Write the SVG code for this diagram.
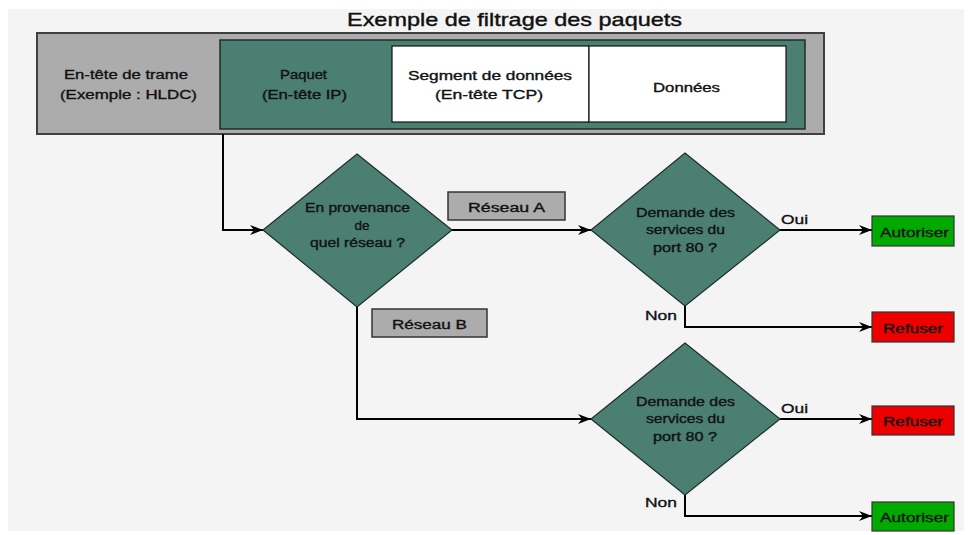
<svg xmlns="http://www.w3.org/2000/svg" width="972" height="535" viewBox="0 0 972 535">
<style>
text{font-family:"Liberation Sans",Arial,sans-serif;fill:#111;stroke:#111;stroke-width:0.35;font-size:12.5px;text-anchor:middle}
.title{font-size:19px;stroke-width:0.4}
.lbl{font-size:13px;text-anchor:start}
.conn{fill:none;stroke:#000;stroke-width:2}
.dia{fill:#4a7f72;stroke:#1e2e28;stroke-width:1.2}
.gray{fill:#acacac;stroke:#333;stroke-width:1.5}
.ok{fill:#00aa00;stroke:#333;stroke-width:1.2}
.no{fill:#ee0000;stroke:#333;stroke-width:1.2}
</style>
<defs>
<marker id="arr" markerUnits="userSpaceOnUse" markerWidth="14" markerHeight="12" refX="13" refY="6" orient="auto">
<path d="M0,1 L13,6 L0,11 L4,6 z" fill="#000"/>
</marker>
</defs>
<rect x="8" y="9" width="956" height="522" fill="#f4f4f4"/>
<text class="title" x="514.5" y="26" textLength="335" lengthAdjust="spacingAndGlyphs">Exemple de filtrage des paquets</text>

<g id="frame">
<rect x="37" y="33" width="787" height="101" fill="#acacac" stroke="#404040" stroke-width="2"/>
<text x="126" y="79" textLength="124" lengthAdjust="spacingAndGlyphs">En-tête de trame</text>
<text x="128.5" y="99" textLength="137" lengthAdjust="spacingAndGlyphs">(Exemple : HLDC)</text>
</g>
<g id="packet">
<rect x="220" y="40" width="585" height="89" fill="#4a7f72" stroke="#1e2e28" stroke-width="1.5"/>
<text x="303.5" y="79" textLength="47" lengthAdjust="spacingAndGlyphs">Paquet</text>
<text x="304.5" y="99" textLength="85" lengthAdjust="spacingAndGlyphs">(En-tête IP)</text>
</g>
<g id="segment">
<rect x="392" y="46" width="197" height="76" fill="#fff" stroke="#111" stroke-width="1.2"/>
<text x="490" y="80" textLength="164" lengthAdjust="spacingAndGlyphs">Segment de données</text>
<text x="489" y="99" textLength="108" lengthAdjust="spacingAndGlyphs">(En-tête TCP)</text>
</g>
<g id="data">
<rect x="589" y="46" width="197" height="76" fill="#fff" stroke="#111" stroke-width="1.2"/>
<text x="686.5" y="92" textLength="67" lengthAdjust="spacingAndGlyphs">Données</text>
</g>

<g id="connectors">
<path class="conn" d="M223,134 V230 H263" marker-end="url(#arr)"/>
<path class="conn" d="M452,230 H591" marker-end="url(#arr)"/>
<path class="conn" d="M780,230 H872" marker-end="url(#arr)"/>
<path class="conn" d="M685,306 V327 H872" marker-end="url(#arr)"/>
<path class="conn" d="M357,307 V419 H591" marker-end="url(#arr)"/>
<path class="conn" d="M780,419 H872" marker-end="url(#arr)"/>
<path class="conn" d="M685,495 V516 H872" marker-end="url(#arr)"/>
<text class="lbl" x="781" y="224" textLength="27" lengthAdjust="spacingAndGlyphs">Oui</text>
<text class="lbl" x="645" y="320" textLength="32" lengthAdjust="spacingAndGlyphs">Non</text>
<text class="lbl" x="781" y="413" textLength="27" lengthAdjust="spacingAndGlyphs">Oui</text>
<text class="lbl" x="645" y="507" textLength="32" lengthAdjust="spacingAndGlyphs">Non</text>
</g>

<g id="q-network">
<polygon class="dia" points="357,154 452,230 357,307 263,230"/>
<text x="357.5" y="212" textLength="105" lengthAdjust="spacingAndGlyphs">En provenance</text>
<text x="362" y="230" textLength="15" lengthAdjust="spacingAndGlyphs">de</text>
<text x="357.5" y="247" textLength="95" lengthAdjust="spacingAndGlyphs">quel réseau ?</text>
</g>
<g id="net-a">
<rect class="gray" x="448" y="192" width="117" height="28"/>
<text x="506.5" y="212" textLength="77" lengthAdjust="spacingAndGlyphs">Réseau A</text>
</g>
<g id="net-b">
<rect class="gray" x="372" y="309" width="115" height="28"/>
<text x="429.5" y="329" textLength="75" lengthAdjust="spacingAndGlyphs">Réseau B</text>
</g>
<g id="q-port-a">
<polygon class="dia" points="685,153 780,230 685,306 591,230"/>
<text x="685.5" y="217" textLength="99" lengthAdjust="spacingAndGlyphs">Demande des</text>
<text x="685.5" y="234" textLength="79" lengthAdjust="spacingAndGlyphs">services du</text>
<text x="685" y="252" textLength="64" lengthAdjust="spacingAndGlyphs">port 80 ?</text>
</g>
<g id="q-port-b">
<polygon class="dia" points="685,343 780,419 685,495 591,419"/>
<text x="685.5" y="406" textLength="99" lengthAdjust="spacingAndGlyphs">Demande des</text>
<text x="685.5" y="423" textLength="79" lengthAdjust="spacingAndGlyphs">services du</text>
<text x="685" y="441" textLength="64" lengthAdjust="spacingAndGlyphs">port 80 ?</text>
</g>
<g id="allow-a">
<rect class="ok" x="872" y="216" width="82" height="30"/>
<text x="914.5" y="237" textLength="69" lengthAdjust="spacingAndGlyphs">Autoriser</text>
</g>
<g id="deny-a">
<rect class="no" x="872" y="312" width="82" height="30"/>
<text x="913" y="333" textLength="60" lengthAdjust="spacingAndGlyphs">Refuser</text>
</g>
<g id="deny-b">
<rect class="no" x="872" y="406" width="82" height="29"/>
<text x="913" y="426" textLength="60" lengthAdjust="spacingAndGlyphs">Refuser</text>
</g>
<g id="allow-b">
<rect class="ok" x="872" y="502" width="82" height="29"/>
<text x="914.5" y="522" textLength="69" lengthAdjust="spacingAndGlyphs">Autoriser</text>
</g>
</svg>
